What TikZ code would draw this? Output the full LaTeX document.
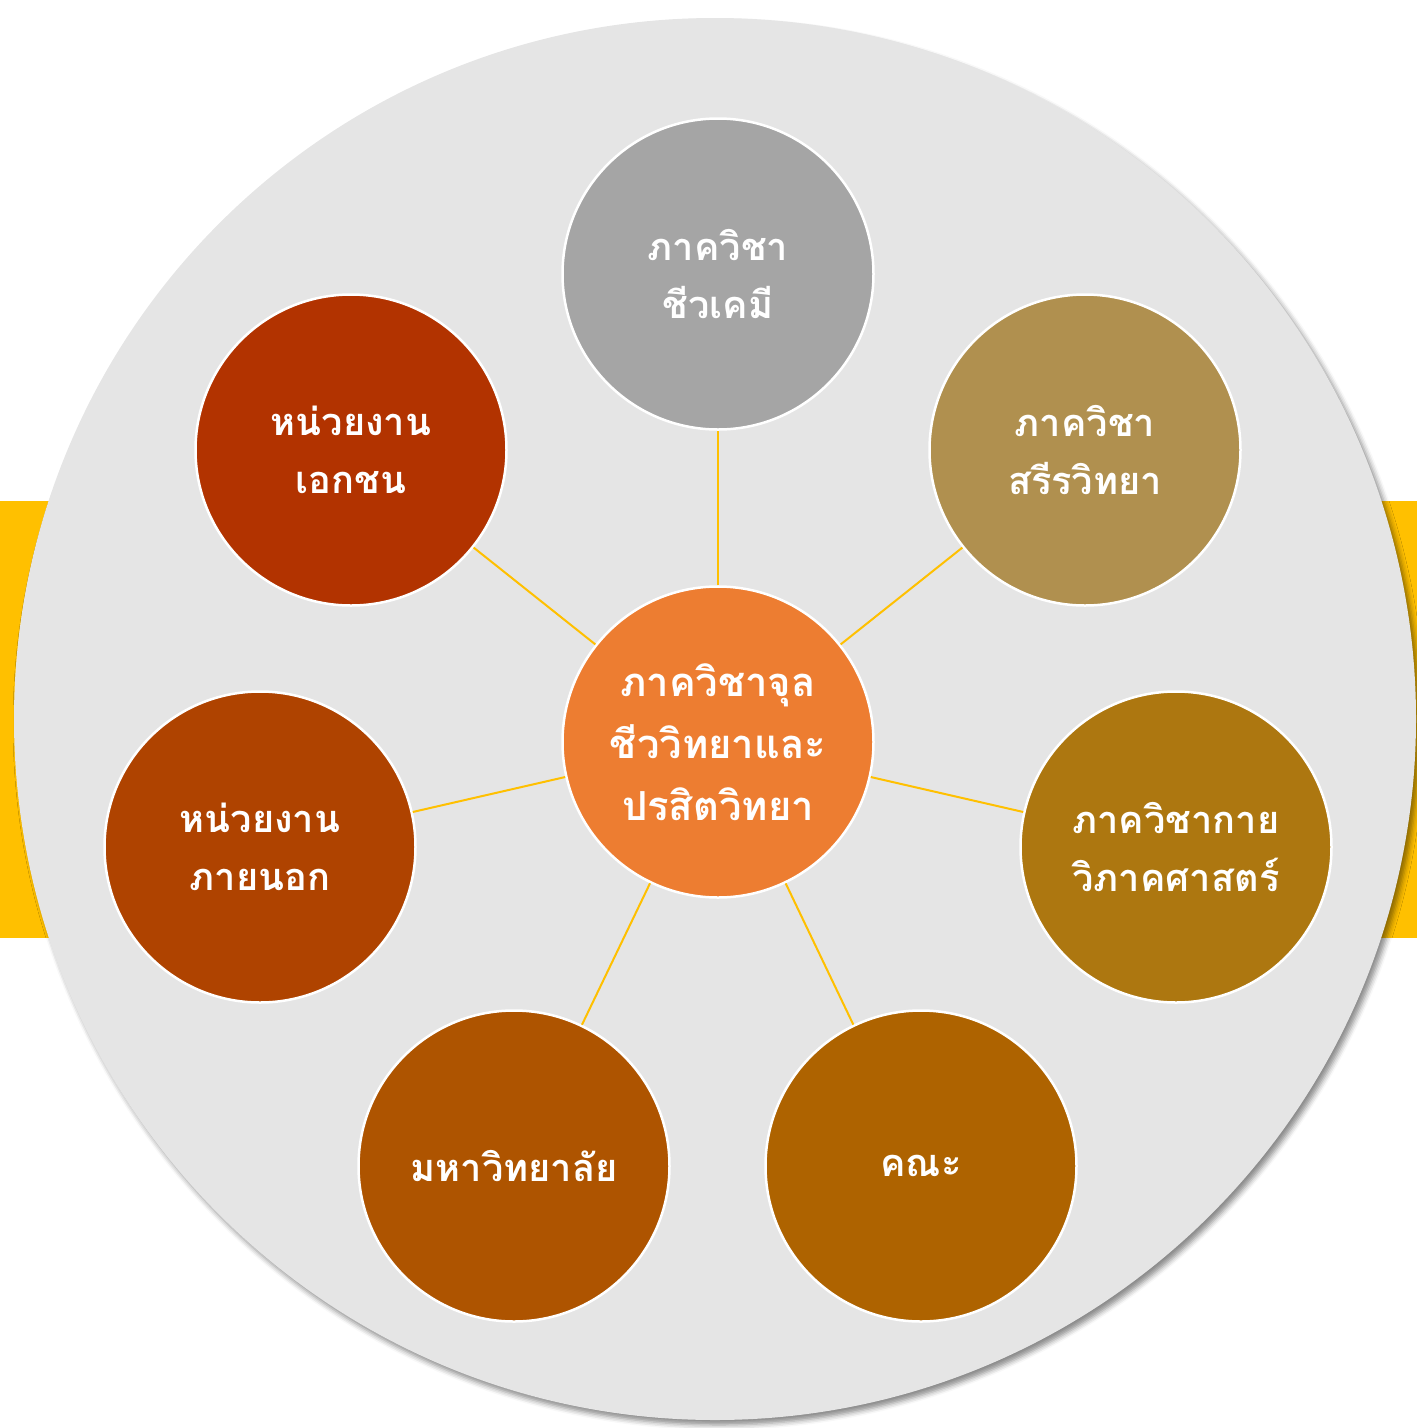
\documentclass[tikz,border=0pt]{standalone}
\usepackage{fontspec}
\newfontfamily\thaifont[Script=Thai]{Loma}
\usetikzlibrary{shadows.blur}
\definecolor{bggray}{HTML}{E5E5E5}
\definecolor{band}{HTML}{FFC000}
\definecolor{cTop}{HTML}{A5A5A5}
\definecolor{cTR}{HTML}{B0904F}
\definecolor{cR}{HTML}{AD7710}
\definecolor{cBR}{HTML}{AE6300}
\definecolor{cBL}{HTML}{AE5400}
\definecolor{cL}{HTML}{AF4300}
\definecolor{cTL}{HTML}{B23300}
\definecolor{cC}{HTML}{ED7D31}
\tikzset{
  bubble/.style={circle, minimum size=311pt, inner sep=0pt, draw=white, line width=2.5pt,
    text=white, align=center, font=\thaifont\bfseries\fontsize{38}{58}\selectfont},
  link/.style={draw=band, line width=2pt}
}
\begin{document}
\begin{tikzpicture}[x=1pt,y=-1pt]
\useasboundingbox (0,0) rectangle (1417,1428);
\fill[band] (0,501) rectangle (1417,938);
\fill[bggray, blur shadow={shadow xshift=4pt, shadow yshift=-5pt, shadow blur radius=5pt, shadow opacity=45}] (715,719) circle[radius=701];
\node[bubble, fill=cC, font=\thaifont\bfseries\fontsize{40}{62}\selectfont] (c) at (718,742) {ภาควิชาจุล\\ชีววิทยาและ\\ปรสิตวิทยา};
\node[bubble, fill=cTop] (t) at (718,274) {ภาควิชา\\ชีวเคมี};
\node[bubble, fill=cTR] (tr) at (1085,450) {ภาควิชา\\สรีรวิทยา};
\node[bubble, fill=cR] (r) at (1176,847) {ภาควิชากาย\\วิภาคศาสตร์};
\node[bubble, fill=cBR] (br) at (921,1166) {คณะ};
\node[bubble, fill=cBL] (bl) at (514,1166) {มหาวิทยาลัย};
\node[bubble, fill=cL] (l) at (260,847) {หน่วยงาน\\ภายนอก};
\node[bubble, fill=cTL] (tl) at (351,450) {หน่วยงาน\\เอกชน};
\foreach \n in {t,tr,r,br,bl,l,tl} \draw[link] (c) -- (\n);
\end{tikzpicture}
\end{document}
